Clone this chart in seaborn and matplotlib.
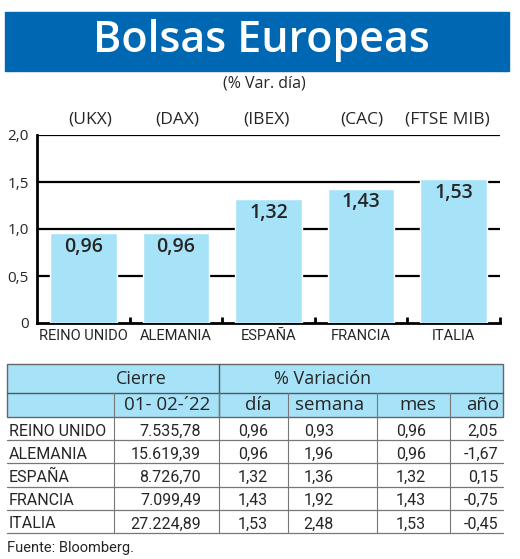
import numpy as np
import pandas as pd
import matplotlib
matplotlib.use("Agg")
import matplotlib.pyplot as plt
import seaborn as sns

# data
paises = ['REINO UNIDO', 'ALEMANIA', 'ESPAÑA', 'FRANCIA', 'ITALIA']
indices = ['(UKX)', '(DAX)', '(IBEX)', '(CAC)', '(FTSE MIB)']
var_dia = [0.96, 0.96, 1.32, 1.43, 1.53]
cierre = [7535.78, 15619.39, 8726.70, 7099.49, 27224.89]
var_semana = [0.93, 1.96, 1.36, 1.92, 2.48]
var_mes = [0.96, 0.96, 1.32, 1.43, 1.53]
var_anio = [2.05, -1.67, 0.15, -0.75, -0.45]

azul = '#0068b3'
celeste = '#a7e3f8'

def es(v, miles=False):
    s = f"{v:,.2f}" if miles else f"{v:.2f}"
    return s.replace(',', 'X').replace('.', ',').replace('X', '.')

sns.set_theme(style='white')
plt.rcParams['font.family'] = ['Open Sans', 'DejaVu Sans']
narrow = ['Liberation Sans Narrow', 'Roboto', 'DejaVu Sans']

W, H = 520, 559
fig = plt.figure(figsize=(W / 100, H / 100), dpi=100)

# full-figure axes in pixel coords for title and table
deco = fig.add_axes([0, 0, 1, 1])
deco.set_xlim(0, W)
deco.set_ylim(H, 0)
deco.axis('off')

deco.add_patch(plt.Rectangle((5, 12), 504, 59, color=azul))
deco.text(261, 41, 'Bolsas Europeas', color='white', fontsize=31,
          fontweight='semibold', ha='center', va='center')
deco.text(264, 83, '(% Var. día)', fontsize=11.5, ha='center', va='center')

# bar chart
ax = fig.add_axes([37 / W, 1 - 323 / H, 463 / W, (323 - 135) / H])
df = pd.DataFrame({'pais': paises, 'dia': var_dia})
sns.barplot(data=df, x='pais', y='dia', color=celeste, width=0.72,
            saturation=1, ax=ax, zorder=3)
ax.set_xlim(-0.5, 4.5)
ax.set_ylim(0, 2.0)
ax.set_yticks([0, 0.5, 1.0, 1.5, 2.0])
ax.set_yticklabels(['0', '0,5', '1,0', '1,5', '2,0'], fontsize=11)
for yv in [0.5, 1.0, 1.5, 2.0]:
    ax.axhline(yv, color='black', lw=1.6, zorder=1)
ax.set_xlabel('')
ax.set_ylabel('')
ax.set_xticks(range(len(paises)))
ax.set_xticklabels(paises, fontsize=10.5, family=narrow)
ax.set_xticks(np.arange(0.5, 5, 1), minor=True)
ax.tick_params(axis='x', which='major', length=0, pad=4)
ax.tick_params(axis='x', which='minor', direction='in', length=4,
               width=2, color='black', bottom=True)
ax.tick_params(axis='y', length=0, pad=6)
for s in ['top', 'right']:
    ax.spines[s].set_visible(False)
for s in ['left', 'bottom']:
    ax.spines[s].set_color('black')
    ax.spines[s].set_linewidth(2)
ax.patch.set_alpha(0)
for i, v in enumerate(var_dia):
    ax.text(i, v - 0.04, es(v), ha='center', va='top', fontsize=14,
            fontweight='semibold', zorder=4)
offs = [0.07, 0.01, -0.02, 0.01, -0.07]
for i, t in enumerate(indices):
    ax.text(i + offs[i], 2.16, t, ha='center', va='center', fontsize=12.5,
            clip_on=False)

# table
x0, x1 = 7, 503
cols = [114, 219, 288, 377, 450]
y_top, y_h1, y_h2 = 364, 393, 417
rh = 23.2
deco.add_patch(plt.Rectangle((x0, y_top), x1 - x0, y_h2 - y_top,
                             facecolor=celeste, edgecolor='#666666', lw=1))
deco.plot([x0, x1], [y_h1, y_h1], color='#555555', lw=1)
deco.plot([219, 219], [y_top, y_h2], color='#555555', lw=1)
for c in cols:
    deco.plot([c, c], [y_h1, y_h2 + 5 * rh], color='#777777', lw=0.8)
deco.text(141, 379, 'Cierre', fontsize=13, ha='center', va='center')
deco.text(323, 379, '% Variación', fontsize=13, ha='center', va='center')
heads = [('01- 02-´22', 167, 'center'), ('día', 271, 'right'),
         ('semana', 330, 'center'), ('mes', 418, 'center'),
         ('año', 499, 'right')]
for t, x, ha in heads:
    deco.text(x, 405, t, fontsize=13.5, ha=ha, va='center')

for r in range(len(paises)):
    yb = y_h2 + (r + 1) * rh
    yc = yb - 9
    deco.plot([x0, x1], [yb, yb], color='#777777', lw=0.9)
    deco.text(9, yc, paises[r], fontsize=11.5, family=narrow, ha='left',
              va='center')
    deco.text(201, yc, es(cierre[r], True), fontsize=11.5, family=narrow,
              ha='right', va='center')
    deco.text(268, yc, es(var_dia[r]), fontsize=11.5, family=narrow,
              ha='right', va='center')
    deco.text(334, yc, es(var_semana[r]), fontsize=11.5, family=narrow,
              ha='right', va='center')
    deco.text(426, yc, es(var_mes[r]), fontsize=11.5, family=narrow,
              ha='right', va='center')
    deco.text(498, yc, es(var_anio[r]), fontsize=11.5, family=narrow,
              ha='right', va='center')

deco.text(7, 548, 'Fuente: Bloomberg.', fontsize=10.5, family=narrow,
          ha='left', va='center')

fig.savefig('out.png', dpi=100)
